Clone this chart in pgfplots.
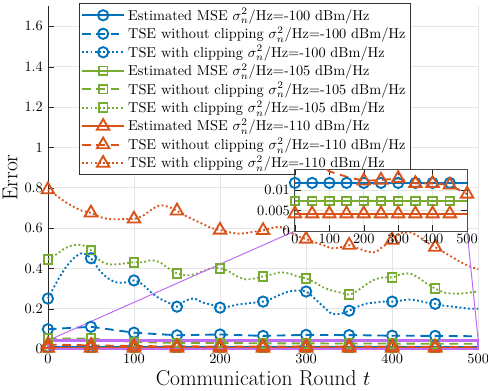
\documentclass[border=0pt]{standalone}
\usepackage{pgfplots}
\pgfplotsset{compat=1.18}
\definecolor{mblue}{rgb}{0,0.447,0.741}
\definecolor{mgreen}{rgb}{0.466,0.674,0.188}
\definecolor{mred}{rgb}{0.85,0.325,0.098}
\definecolor{mpurple}{rgb}{0.76,0.42,0.96}
\pgfplotsset{
  mline/.style={line width=1.3pt, solid},
  mdash/.style={line width=1.3pt, dash pattern=on 6pt off 4pt},
  mdot/.style={line width=1.3pt, dash pattern=on 1.3pt off 1.7pt},
  bmk/.style={color=mblue, mark=o, mark size=3.6pt, mark options={solid, line width=1.3pt, fill=none}},
  gmk/.style={color=mgreen, mark=square, mark size=3.0pt, mark options={solid, line width=1.3pt, fill=none}},
  rmk/.style={color=mred, mark=triangle, mark size=5pt, mark options={solid, line width=1.3pt, fill=none}},
}
\begin{document}
\begin{tikzpicture}
\begin{axis}[
  name=main,
  scale only axis, width=300pt, height=239pt,
  xmin=0, xmax=500, ymin=0, ymax=1.7,
  xtick={0,100,200,300,400,500},
  ytick={0,0.2,0.4,0.6,0.8,1,1.2,1.4,1.6},
  yticklabels={0,0.2,0.4,0.6,0.8,1,1.2,1.4,1.6},
  axis x line*=bottom, axis y line*=left,
  axis line style={black!85, line width=0.5pt},
  tick style={black!85},
  grid=major, grid style={black!10, line width=0.4pt},
  xlabel={Communication Round $t$}, ylabel={Error},
  label style={font=\fontsize{15}{18}\selectfont},
  xlabel style={yshift=2pt},
  ylabel style={yshift=-2pt},
  clip=false,
  legend style={at={(rel axis cs:0.072,1.008)}, anchor=north west, draw=black!80, fill=white, font=\normalsize, inner sep=1.2pt, row sep=-0.75pt, line width=0.5pt},
  legend cell align=left,
  legend image code/.code={\draw[mark=none] (0cm,0cm) -- (1.04cm,0cm); \draw plot coordinates {(0.52cm,0cm)};},
]
% -100
\addplot[bmk, mline, mark indices={1,2,3,4,5,6,7,8,9,10}] coordinates {(0,0.0117)(50,0.0117)(100,0.0117)(150,0.0117)(200,0.0117)(250,0.0117)(300,0.0117)(350,0.0117)(400,0.0117)(450,0.0117)(500,0.0117)};
\addlegendentry{Estimated MSE $\sigma_n^2$/Hz=-100 dBm/Hz}
\addplot[bmk, mdash, mark indices={1,2,3,4,5,6,7,8,9,10}] coordinates {(0,0.098)(50,0.110)(100,0.081)(150,0.068)(200,0.072)(250,0.065)(300,0.070)(350,0.069)(400,0.066)(450,0.065)(500,0.063)};
\addlegendentry{TSE without clipping $\sigma_n^2$/Hz=-100 dBm/Hz}
\addplot[bmk, mdot, smooth, mark indices={1,6,11,16,21,26,31,36,41,46}] coordinates {(0,0.25)(10,0.33)(20,0.40)(30,0.45)(40,0.475)(50,0.45)(60,0.39)(70,0.35)(80,0.33)(90,0.33)(100,0.34)(110,0.32)(120,0.28)(130,0.25)(140,0.23)(150,0.21)(160,0.24)(170,0.25)(180,0.23)(190,0.22)(200,0.205)(210,0.21)(220,0.22)(230,0.225)(240,0.23)(250,0.235)(260,0.25)(270,0.27)(280,0.285)(290,0.29)(300,0.285)(310,0.25)(320,0.21)(330,0.175)(340,0.175)(350,0.19)(360,0.21)(370,0.225)(380,0.23)(390,0.235)(400,0.235)(410,0.24)(420,0.245)(430,0.24)(440,0.23)(450,0.224)(460,0.215)(470,0.21)(480,0.205)(490,0.2)(500,0.2)};
\addlegendentry{TSE with clipping $\sigma_n^2$/Hz=-100 dBm/Hz}
% -105
\addplot[gmk, mline, mark indices={1,2,3,4,5,6,7,8,9,10}] coordinates {(0,0.0073)(50,0.0073)(100,0.0073)(150,0.0073)(200,0.0073)(250,0.0073)(300,0.0073)(350,0.0073)(400,0.0073)(450,0.0073)(500,0.0073)};
\addlegendentry{Estimated MSE $\sigma_n^2$/Hz=-105 dBm/Hz}
\addplot[gmk, mdash, mark indices={1,2,3,4,5,6,7,8,9,10}] coordinates {(0,0.052)(50,0.052)(100,0.035)(150,0.030)(200,0.030)(250,0.028)(300,0.028)(350,0.027)(400,0.027)(450,0.026)(500,0.026)};
\addlegendentry{TSE without clipping $\sigma_n^2$/Hz=-105 dBm/Hz}
\addplot[gmk, mdot, smooth, mark indices={1,6,11,16,21,26,31,36,41,46}] coordinates {(0,0.444)(10,0.47)(20,0.50)(30,0.515)(40,0.515)(50,0.49)(60,0.44)(70,0.42)(80,0.42)(90,0.425)(100,0.43)(110,0.43)(120,0.44)(130,0.43)(140,0.40)(150,0.375)(160,0.365)(170,0.37)(180,0.385)(190,0.40)(200,0.40)(210,0.385)(220,0.36)(230,0.345)(240,0.35)(250,0.36)(260,0.37)(270,0.38)(280,0.375)(290,0.36)(300,0.35)(310,0.33)(320,0.305)(330,0.29)(340,0.28)(350,0.27)(360,0.29)(370,0.32)(380,0.345)(390,0.355)(400,0.355)(410,0.37)(420,0.375)(430,0.355)(440,0.325)(450,0.30)(460,0.28)(470,0.275)(480,0.275)(490,0.28)(500,0.285)};
\addlegendentry{TSE with clipping $\sigma_n^2$/Hz=-105 dBm/Hz}
% -110
\addplot[rmk, mline, mark indices={1,2,3,4,5,6,7,8,9,10}] coordinates {(0,0.0042)(50,0.0042)(100,0.0042)(150,0.0042)(200,0.0042)(250,0.0042)(300,0.0042)(350,0.0042)(400,0.0042)(450,0.0042)(500,0.0042)};
\addlegendentry{Estimated MSE $\sigma_n^2$/Hz=-110 dBm/Hz}
\addplot[rmk, mdash, mark indices={1,2,3,4,5,6,7,8,9,10}] coordinates {(0,0.022)(50,0.018)(100,0.0145)(150,0.0132)(200,0.0122)(250,0.0124)(300,0.0128)(350,0.0116)(400,0.0116)(450,0.0112)(500,0.009)};
\addlegendentry{TSE without clipping $\sigma_n^2$/Hz=-110 dBm/Hz}
\addplot[rmk, mdot, smooth, mark indices={1,6,11,16,21,26,31,36,41,46}] coordinates {(0,0.79)(10,0.76)(20,0.73)(30,0.705)(40,0.685)(50,0.675)(60,0.655)(70,0.645)(80,0.643)(90,0.645)(100,0.645)(110,0.66)(120,0.69)(130,0.712)(140,0.705)(150,0.685)(160,0.66)(170,0.64)(180,0.62)(190,0.60)(200,0.59)(210,0.58)(220,0.572)(230,0.575)(240,0.582)(250,0.588)(260,0.6)(270,0.605)(280,0.585)(290,0.56)(300,0.545)(310,0.53)(320,0.515)(330,0.50)(340,0.505)(350,0.515)(360,0.50)(370,0.485)(380,0.48)(390,0.51)(400,0.54)(410,0.575)(420,0.58)(430,0.56)(440,0.53)(450,0.505)(460,0.48)(470,0.455)(480,0.43)(490,0.41)(500,0.395)};
\addlegendentry{TSE with clipping $\sigma_n^2$/Hz=-110 dBm/Hz}
% zoom box and connectors
\addplot[forget plot, mpurple, line width=1.5pt, solid] coordinates {(0,0)(500,0)(500,0.042)(0,0.042)(0,0)};
\addplot[forget plot, mpurple, line width=0.7pt, solid] coordinates {(0,0.042)(287,0.585)};
\addplot[forget plot, mpurple, line width=0.7pt, solid] coordinates {(500,0.042)(487,0.585)};
\coordinate (ins) at (axis cs:287,0.585);
\coordinate (O) at (rel axis cs:0,0);
\end{axis}
\begin{axis}[
  at={(ins)}, anchor=south west,
  scale only axis, width=120pt, height=43pt,
  xmin=0, xmax=500, ymin=0, ymax=0.015,
  xtick={0,100,200,300,400,500},
  ytick={0,0.005,0.01}, yticklabels={0,0.005,0.01},
  scaled y ticks=false,
  axis background/.style={fill=white},
  axis line style={black!70, line width=0.6pt},
  tick style={black!85},
  grid=major, grid style={black!10, line width=0.4pt},
  xticklabel style={yshift=1pt},
]
\addplot[bmk, mline, mark indices={1,2,3,4,5,6,7,8,9,10}] coordinates {(0,0.0117)(50,0.0117)(100,0.0117)(150,0.0117)(200,0.0117)(250,0.0117)(300,0.0117)(350,0.0117)(400,0.0117)(450,0.0117)(500,0.0117)};
\addplot[gmk, mline, mark indices={1,2,3,4,5,6,7,8,9,10}] coordinates {(0,0.0073)(50,0.0073)(100,0.0073)(150,0.0073)(200,0.0073)(250,0.0073)(300,0.0073)(350,0.0073)(400,0.0073)(450,0.0073)(500,0.0073)};
\addplot[rmk, mline, mark indices={1,2,3,4,5,6,7,8,9,10}] coordinates {(0,0.0042)(50,0.0042)(100,0.0042)(150,0.0042)(200,0.0042)(250,0.0042)(300,0.0042)(350,0.0042)(400,0.0042)(450,0.0042)(500,0.0042)};
\addplot[rmk, mdash, mark indices={3,4,5,6,7,8,9,10}] coordinates {(0,0.022)(50,0.018)(100,0.0145)(150,0.0132)(200,0.0122)(250,0.0124)(300,0.0128)(350,0.0116)(400,0.0116)(450,0.0112)(500,0.009)};
\end{axis}
\pgfresetboundingbox
\path[use as bounding box] ([shift={(-33.4pt,-28.6pt)}]O) rectangle ([shift={(306.8pt,243.3pt)}]O);
\end{tikzpicture}
\end{document}
